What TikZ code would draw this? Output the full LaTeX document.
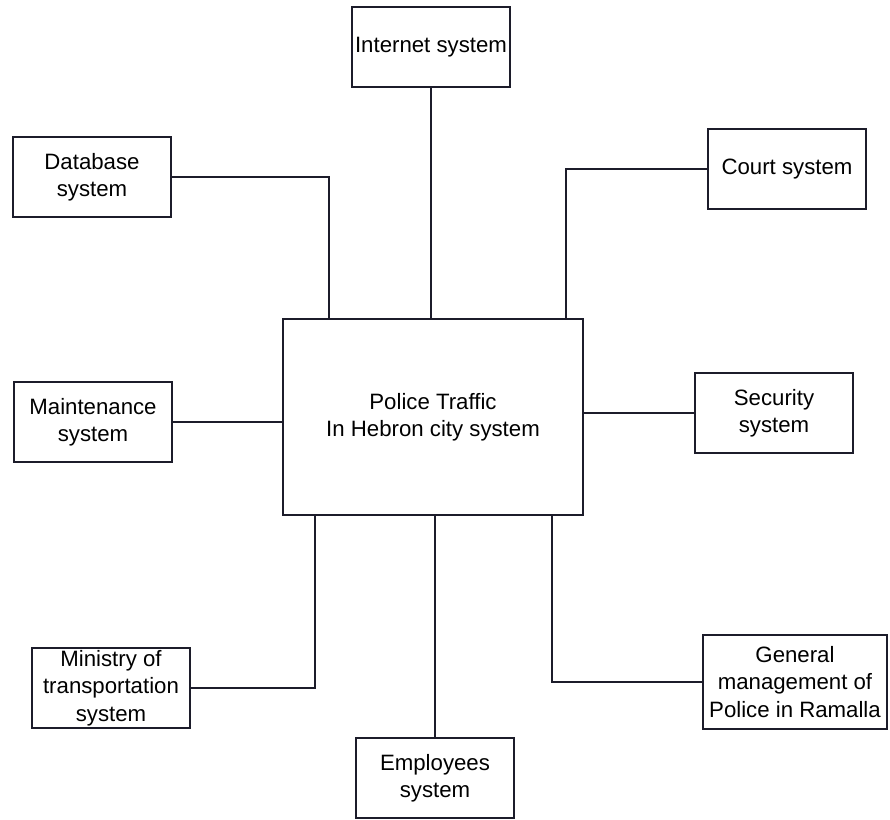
\documentclass[tikz,border=0pt]{standalone}
\usepackage{xcolor}
\definecolor{ink}{HTML}{1C1C2A}
\usepackage{fontspec}
\setmainfont{Liberation Sans}
\usepackage{tikz}
\usetikzlibrary{positioning, calc}

\begin{document}
\begin{tikzpicture}[
            x=0.025cm, y=-0.025cm,
            align=center,
            sysbox/.style={rectangle, draw=ink, fill=white, line width=1.1pt, minimum width=3.95cm, minimum height=2cm, inner sep=1pt, font=\fontsize{15.8}{19.5}\selectfont},
            mainbox/.style={sysbox, minimum width=7.5cm, minimum height=4.9cm},
            link/.style={draw=ink, line width=1.1pt}
        ]
            \useasboundingbox (0,0) rectangle (890,820);

            % Nodes
            \node[mainbox] (traffic) at (433,417) {Police Traffic\\In Hebron city system};
            \node[sysbox] (internet) at (431,47) {Internet system};
            \node[sysbox] (database) at (92,177) {Database\\system};
            \node[sysbox] (court) at (787,169) {Court system};
            \node[sysbox] (maintenance) at (93,422) {Maintenance\\system};
            \node[sysbox] (security) at (774,413) {Security\\system};
            \node[sysbox] (ministry) at (111,688) {Ministry of\\transportation\\system};
            \node[sysbox, minimum width=4.6cm, minimum height=2.35cm] (general) at (795,682) {General\\management of\\Police in Ramalla};
            \node[sysbox] (employees) at (435,778) {Employees\\system};

            % Links
            \draw[link] (internet.south) -- (internet.south |- traffic.north);
            \draw[link] (database.east) -| ($(traffic.north west)+(47,0)$);
            \draw[link] (court.west) -| ($(traffic.north west)+(284,0)$);
            \draw[link] (maintenance.east) -- (maintenance.east -| traffic.west);
            \draw[link] (security.west) -- (security.west -| traffic.east);
            \draw[link] (ministry.east) -| ($(traffic.south west)+(33,0)$);
            \draw[link] (employees.north) -- (employees.north |- traffic.south);
            \draw[link] (general.west) -| ($(traffic.south west)+(270,0)$);
        \end{tikzpicture}
\end{document}
